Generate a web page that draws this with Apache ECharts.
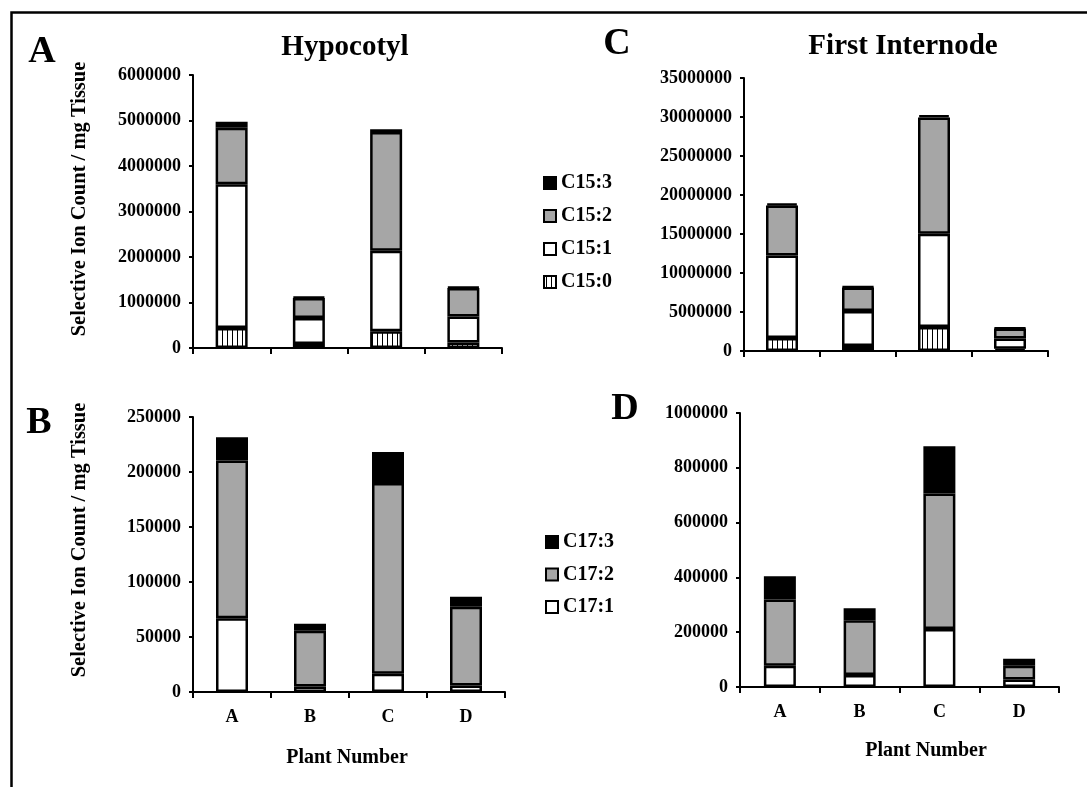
<!DOCTYPE html>
<html>
<head>
<meta charset="utf-8">
<script src="https://cdn.jsdelivr.net/npm/echarts@6/dist/echarts.min.js"></script>
<style>
html,body{margin:0;padding:0;background:#fff;}
#chart{width:1087px;height:787px;}
</style>
</head>
<body>
<div id="chart"></div>
<script>
// ---- data ----
var categories = ['A', 'B', 'C', 'D'];

// Hypocotyl, C15 species
var hypoC15_0 = [440000, 90000, 370000, 120000];
var hypoC15_1 = [3160000, 570000, 1770000, 570000];
var hypoC15_2 = [1240000, 440000, 2610000, 630000];
var hypoC15_3 = [130000, 20000, 60000, 20000];

// First internode, C15 species
var interC15_0 = [1670000, 640000, 3080000, 300000];
var interC15_1 = [10580000, 4500000, 11960000, 1290000];
var interC15_2 = [6390000, 3000000, 14910000, 1280000];
var interC15_3 = [300000, 100000, 300000, 100000];

// Hypocotyl, C17 species
var hypoC17_1 = [67000, 5000, 16700, 6000];
var hypoC17_2 = [143500, 50600, 173200, 71400];
var hypoC17_3 = [21000, 6400, 28200, 9100];

// First internode, C17 species
var interC17_1 = [78000, 44000, 212000, 27000];
var interC17_2 = [241000, 199500, 494000, 51000];
var interC17_3 = [85000, 43800, 172800, 25500];

var legendC15 = ['C15:3', 'C15:2', 'C15:1', 'C15:0'];
var legendC17 = ['C17:3', 'C17:2', 'C17:1'];

// ---- styles ----
var FONT = '"Liberation Serif", "Times New Roman", serif';
var GRAY = '#a6a6a6';

var pc = document.createElement('canvas');
pc.width = 5; pc.height = 10;
var pctx = pc.getContext('2d');
pctx.fillStyle = '#fff'; pctx.fillRect(0, 0, 5, 10);
pctx.fillStyle = '#000'; pctx.fillRect(2, 0, 1, 10);
var HATCH = { image: pc, repeat: 'repeat' };

var fills = {
  'C15:0': HATCH, 'C15:1': '#ffffff', 'C15:2': GRAY, 'C15:3': '#000000',
  'C17:1': '#ffffff', 'C17:2': GRAY, 'C17:3': '#000000'
};

var grids = [
  { left: 193, top: 75, width: 309, height: 273 },   // A
  { left: 744, top: 78, width: 304, height: 273 },   // C
  { left: 193, top: 417, width: 312, height: 275 },  // B
  { left: 740, top: 413, width: 319, height: 274 }   // D
];

function xAx(gi, showLabels) {
  return {
    type: 'category', gridIndex: gi, data: categories,
    axisLine: { lineStyle: { color: '#000', width: 2 } },
    axisTick: { show: true, length: 6, lineStyle: { color: '#000', width: 2 } },
    axisLabel: { show: showLabels, color: '#000', fontFamily: FONT, fontWeight: 'bold', fontSize: 18, margin: 16 }
  };
}
function yAx(gi, max, interval) {
  return {
    type: 'value', gridIndex: gi, min: 0, max: max, interval: interval,
    axisLine: { show: true, lineStyle: { color: '#000', width: 2 } },
    axisTick: { show: true, length: 4, lineStyle: { color: '#000', width: 2 } },
    splitLine: { show: false },
    axisLabel: { color: '#000', fontFamily: FONT, fontWeight: 'bold', fontSize: 18, margin: 12,
      formatter: function (v) { return String(v); } }
  };
}
function bar(name, data, gi, stack) {
  return {
    type: 'bar', name: name, data: data, xAxisIndex: gi, yAxisIndex: gi, stack: stack,
    barWidth: 32,
    itemStyle: { color: fills[name], borderColor: '#000', borderWidth: 2.5 },
    emphasis: { disabled: true },
    animation: false
  };
}

var series = [
  bar('C15:0', hypoC15_0, 0, 'a'),
  bar('C15:1', hypoC15_1, 0, 'a'),
  bar('C15:2', hypoC15_2, 0, 'a'),
  bar('C15:3', hypoC15_3, 0, 'a'),
  bar('C15:0', interC15_0, 1, 'c'),
  bar('C15:1', interC15_1, 1, 'c'),
  bar('C15:2', interC15_2, 1, 'c'),
  bar('C15:3', interC15_3, 1, 'c'),
  bar('C17:1', hypoC17_1, 2, 'b'),
  bar('C17:2', hypoC17_2, 2, 'b'),
  bar('C17:3', hypoC17_3, 2, 'b'),
  bar('C17:1', interC17_1, 3, 'd'),
  bar('C17:2', interC17_2, 3, 'd'),
  bar('C17:3', interC17_3, 3, 'd')
];

function legend(data, top, gap, left) {
  return {
    data: data, orient: 'vertical', left: left, top: top, itemGap: gap,
    icon: 'rect', itemWidth: 12, itemHeight: 12,
    itemStyle: { borderColor: '#000', borderWidth: 2 },
    textStyle: { color: '#000', fontFamily: FONT, fontWeight: 'bold', fontSize: 20, lineHeight: 20 },
    selectedMode: false
  };
}

function txt(x, y, s, size, rot) {
  return {
    type: 'text', x: x, y: y, rotation: rot || 0,
    style: { text: s, fill: '#000', font: 'bold ' + size + 'px ' + FONT, align: 'center', verticalAlign: 'middle' },
    silent: true
  };
}

var option = {
  backgroundColor: '#fff',
  animation: false,
  grid: grids,
  xAxis: [xAx(0, false), xAx(1, false), xAx(2, true), xAx(3, true)],
  yAxis: [yAx(0, 6000000, 1000000), yAx(1, 35000000, 5000000), yAx(2, 250000, 50000), yAx(3, 1000000, 200000)],
  legend: [legend(legendC15, 168, 13, 538), legend(legendC17, 527, 12.5, 540)],
  series: series,
  graphic: [
    { type: 'polyline', shape: { points: [[11.5, 787], [11.5, 12.5], [1087, 12.5]] },
      style: { stroke: '#000', lineWidth: 2.5, fill: null }, silent: true },
    txt(42, 52, 'A', 38),
    txt(617, 44, 'C', 38),
    txt(39, 423, 'B', 38),
    txt(625, 409, 'D', 38),
    txt(345, 48, 'Hypocotyl', 29),
    txt(903, 47, 'First Internode', 29),
    txt(80, 199, 'Selective Ion Count / mg Tissue', 20.5, Math.PI / 2),
    txt(80, 540, 'Selective Ion Count / mg Tissue', 20.5, Math.PI / 2),
    txt(347, 758, 'Plant Number', 20),
    txt(926, 751, 'Plant Number', 20)
  ]
};

var chart = echarts.init(document.getElementById('chart'), null, { renderer: 'canvas' });
chart.setOption(option);
</script>
</body>
</html>
